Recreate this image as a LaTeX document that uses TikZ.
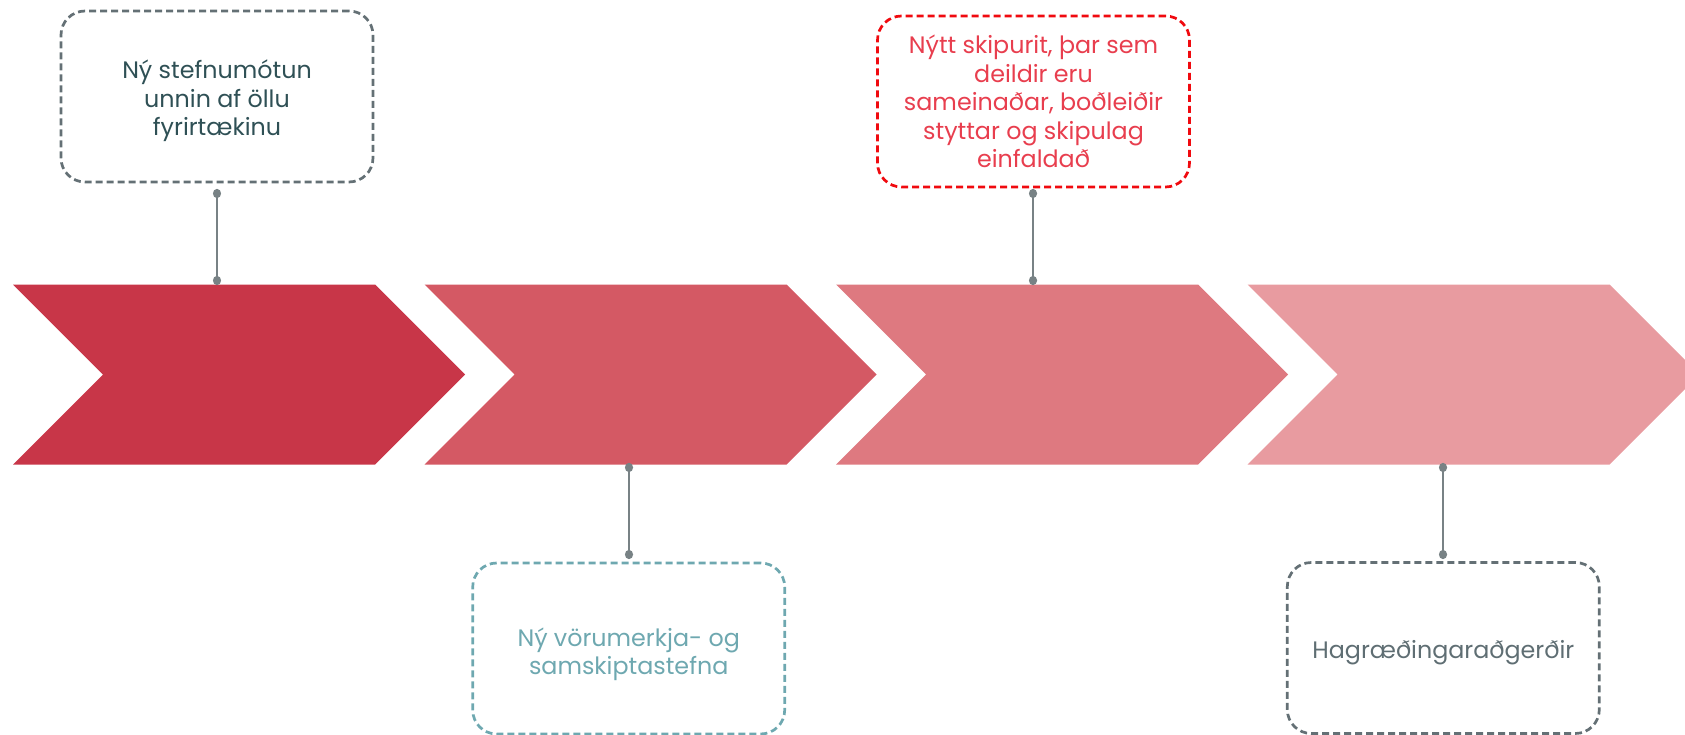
\documentclass[tikz,border=0pt]{standalone}
\usepackage{fontspec}
\setmainfont{Poppins}
\usetikzlibrary{arrows.meta}
\definecolor{chA}{RGB}{200,54,72}
\definecolor{chB}{RGB}{212,89,100}
\definecolor{chC}{RGB}{222,121,128}
\definecolor{chD}{RGB}{232,155,160}
\definecolor{greyline}{RGB}{100,112,117}
\definecolor{darkteal}{RGB}{47,80,85}
\definecolor{lightteal}{RGB}{110,168,176}
\definecolor{redline}{RGB}{240,10,15}
\definecolor{redtext}{RGB}{232,62,78}
\definecolor{greytext}{RGB}{95,110,115}
\definecolor{connc}{RGB}{120,130,133}
\tikzset{
  notebox/.style={draw, line width=2.7pt, dash pattern=on 7pt off 4pt, rounded corners=24pt,
    minimum width=312pt, minimum height=171pt, inner sep=0pt},
  boxtext/.style={inner sep=0pt, align=center, font=\fontsize{23.8}{28.4}\selectfont},
  conn/.style={draw=connc, line width=2.8pt, {Circle[length=9pt,width=8pt]}-{Circle[length=9pt,width=8pt]}},
}
\begin{document}
\begin{tikzpicture}[x=1pt,y=-1pt]
\useasboundingbox (0,0) rectangle (1685,735);
\begin{scope}
\clip (0,0) rectangle (1685,735);
\foreach \i/\c in {0/chA,1/chB,2/chC,3/chD}{
  \fill[\c] ({13+411.5*\i},284.5) -- ++(362,0) -- ++(90,90) -- ++(-90,90) -- ++(-362,0) -- ++(90,-90) -- cycle;
}
\end{scope}
\node[notebox, draw=greyline] (b1) at (217,96.5) {};
\node[notebox, draw=redline] (b2) at (1033.5,101.5) {};
\node[notebox, draw=lightteal] (b3) at (628.7,648.5) {};
\node[notebox, draw=greyline] (b4) at (1443.3,648) {};
\node[boxtext, text=darkteal] (l1) at ([yshift=-4.5pt]b1.center) {Ný stefnumótun\\unnin af öllu\\fyrirtækinu};
\node[boxtext, text=redtext] (l2) at (b2.center) {Nýtt skipurit, þar sem\\deildir eru\\sameinaðar, boðleiðir\\styttar og skipulag\\einfaldað};
\node[boxtext, text=lightteal] (l3) at ([yshift=-6pt]b3.center) {Ný vörumerkja- og\\samskiptastefna};
\node[boxtext, text=greytext] (l4) at ([yshift=-5pt]b4.center) {Hagræðingaraðgerðir};
\coordinate (t1) at (217,189);
\coordinate (s1) at (217,285);
\coordinate (t2) at (1033,189);
\coordinate (s2) at (1033,285);
\coordinate (s3) at (629,463);
\coordinate (t3) at (629,559);
\coordinate (s4) at (1443,463);
\coordinate (t4) at (1443,559);
\draw[conn] (t1) -- (s1);
\draw[conn] (t2) -- (s2);
\draw[conn] (s3) -- (t3);
\draw[conn] (s4) -- (t4);
\end{tikzpicture}
\end{document}
